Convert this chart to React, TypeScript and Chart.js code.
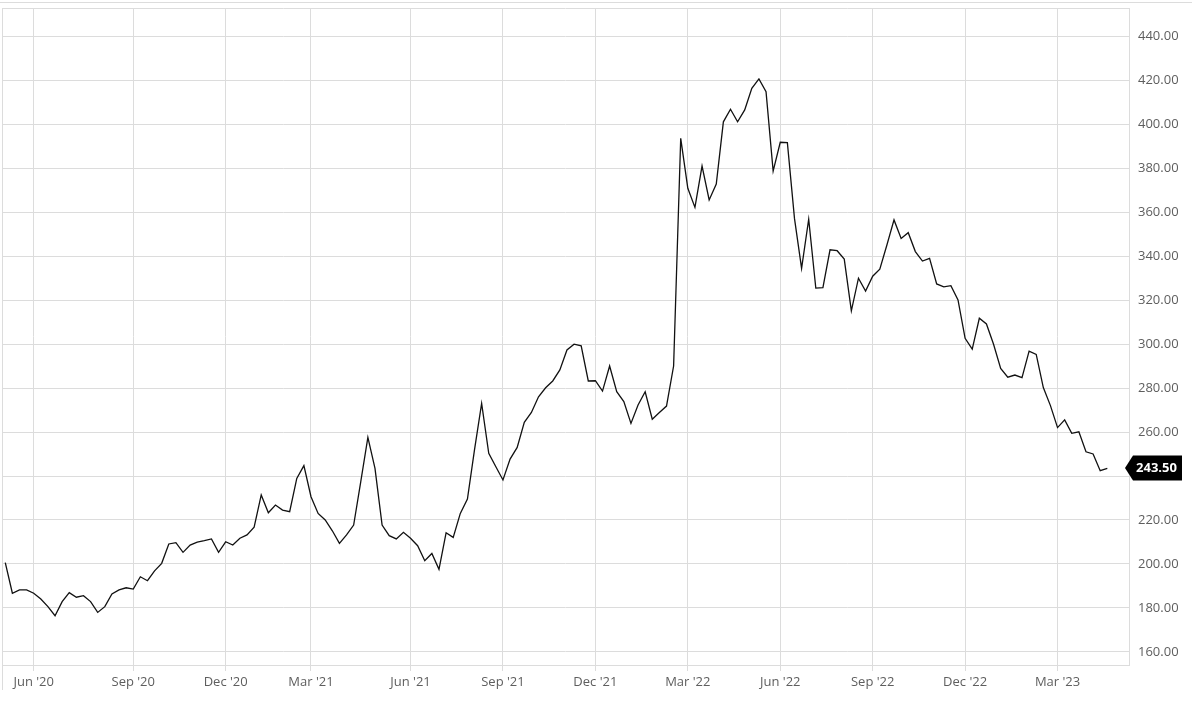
import React, { useEffect, useRef } from "react";
import { Chart, registerables } from "chart.js";

Chart.register(...registerables);

const dates: string[] = [
  "2020-05-04","2020-05-11","2020-05-18","2020-05-25",
  "2020-06-01","2020-06-08","2020-06-15","2020-06-22","2020-06-29",
  "2020-07-06","2020-07-13","2020-07-20","2020-07-27",
  "2020-08-03","2020-08-10","2020-08-17","2020-08-24","2020-08-31",
  "2020-09-07","2020-09-14","2020-09-21","2020-09-28",
  "2020-10-05","2020-10-12","2020-10-19","2020-10-26",
  "2020-11-02","2020-11-09","2020-11-16","2020-11-23","2020-11-30",
  "2020-12-07","2020-12-14","2020-12-21","2020-12-28",
  "2021-01-04","2021-01-11","2021-01-18","2021-01-25",
  "2021-02-01","2021-02-08","2021-02-15","2021-02-22",
  "2021-03-01","2021-03-08","2021-03-15","2021-03-22","2021-03-29",
  "2021-04-05","2021-04-12","2021-04-19","2021-04-26",
  "2021-05-03","2021-05-10","2021-05-17","2021-05-24","2021-05-31",
  "2021-06-07","2021-06-14","2021-06-21","2021-06-28",
  "2021-07-05","2021-07-12","2021-07-19","2021-07-26",
  "2021-08-02","2021-08-09","2021-08-16","2021-08-23","2021-08-30",
  "2021-09-06","2021-09-13","2021-09-20","2021-09-27",
  "2021-10-04","2021-10-11","2021-10-18","2021-10-25",
  "2021-11-01","2021-11-08","2021-11-15","2021-11-22","2021-11-29",
  "2021-12-06","2021-12-13","2021-12-20","2021-12-27",
  "2022-01-03","2022-01-10","2022-01-17","2022-01-24","2022-01-31",
  "2022-02-07","2022-02-14","2022-02-21","2022-02-28",
  "2022-03-07","2022-03-14","2022-03-21","2022-03-28",
  "2022-04-04","2022-04-11","2022-04-18","2022-04-25",
  "2022-05-02","2022-05-09","2022-05-16","2022-05-23","2022-05-30",
  "2022-06-06","2022-06-13","2022-06-20","2022-06-27",
  "2022-07-04","2022-07-11","2022-07-18","2022-07-25",
  "2022-08-01","2022-08-08","2022-08-15","2022-08-22","2022-08-29",
  "2022-09-05","2022-09-12","2022-09-19","2022-09-26",
  "2022-10-03","2022-10-10","2022-10-17","2022-10-24","2022-10-31",
  "2022-11-07","2022-11-14","2022-11-21","2022-11-28",
  "2022-12-05","2022-12-12","2022-12-19","2022-12-26",
  "2023-01-02","2023-01-09","2023-01-16","2023-01-23","2023-01-30",
  "2023-02-06","2023-02-13","2023-02-20","2023-02-27",
  "2023-03-06","2023-03-13","2023-03-20","2023-03-27",
  "2023-04-03","2023-04-10","2023-04-17","2023-04-24",
];

const prices: number[] = [
  200.6, 186.7, 188.2, 188.2, 186.7, 184.1, 180.6, 176.5, 182.9, 187.0,
  184.9, 185.6, 182.9, 178.0, 180.6, 186.4, 188.2, 189.2, 188.6, 194.2,
  192.4, 196.9, 200.3, 209.1, 209.7, 205.3, 208.6, 209.9, 210.6, 211.4,
  205.3, 210.1, 208.6, 211.7, 213.2, 216.7, 231.4, 223.3, 226.8, 224.5,
  223.8, 238.9, 244.7, 230.6, 223.0, 220.0, 215.1, 209.4, 213.2, 217.7,
  237.4, 257.6, 243.5, 217.7, 212.9, 211.4, 214.4, 211.7, 208.3, 201.5,
  204.8, 197.6, 214.2, 212.1, 223.0, 229.5, 252.0, 273.0, 250.3, 244.2,
  238.2, 247.7, 253.0, 264.4, 268.9, 276.0, 280.1, 283.2, 288.2, 297.3,
  299.9, 299.2, 283.2, 283.3, 278.6, 290.0, 278.3, 273.8, 263.9, 272.3,
  278.3, 265.8, 268.9, 271.8, 290.0, 393.5, 370.8, 362.1, 380.9, 365.5,
  372.7, 401.0, 406.7, 401.0, 406.4, 416.2, 420.5, 414.7, 378.6, 391.7,
  391.5, 357.1, 334.4, 356.7, 325.4, 325.6, 342.8, 342.4, 338.6, 315.1,
  329.9, 324.1, 330.8, 334.0, 345.0, 356.4, 348.0, 350.6, 342.0, 337.7,
  338.9, 327.3, 326.0, 326.5, 320.0, 302.6, 297.7, 311.7, 309.1, 299.9,
  288.9, 284.9, 285.9, 284.7, 296.8, 295.3, 280.2, 272.0, 262.0, 265.5,
  259.4, 260.1, 251.0, 250.0, 242.4, 243.5,
];

const yTickValues: number[] = [160, 180, 200, 220, 240, 260, 280, 300, 320, 340, 360, 380, 400, 420, 440];
const tickMonths: number[] = [2, 5, 8, 11];
const monthNames: string[] = ["Jan", "Feb", "Mar", "Apr", "May", "Jun", "Jul", "Aug", "Sep", "Oct", "Nov", "Dec"];

const FONT = "'Open Sans', 'Noto Sans', sans-serif";
const GRID = "#dcdcdc";

function monthOf(d: string) {
  return parseInt(d.slice(5, 7), 10) - 1;
}

const xTickIndices: number[] = dates
  .map((d, i) => i)
  .filter((i) => i > 0 && tickMonths.includes(monthOf(dates[i])) && monthOf(dates[i - 1]) !== monthOf(dates[i]));

const extras = {
  id: "extras",
  afterDraw(chart: any) {
    const { ctx, chartArea, scales } = chart;
    const { left, right, top } = chartArea;
    ctx.save();
    ctx.strokeStyle = GRID;
    ctx.lineWidth = 1;
    ctx.beginPath();
    ctx.moveTo(0, 2.5);
    ctx.lineTo(1192, 2.5);
    ctx.stroke();
    ctx.beginPath();
    ctx.moveTo(left, Math.round(top) + 0.5);
    ctx.lineTo(right, Math.round(top) + 0.5);
    ctx.stroke();
    ctx.beginPath();
    ctx.moveTo(left + 0.5, top);
    ctx.lineTo(left + 0.5, 690);
    ctx.stroke();

    const last = prices[prices.length - 1];
    const py = Math.round(scales.y.getPixelForValue(last));
    const tip = right - 4;
    const bx = tip + 8;
    const bw = 49;
    const bh = 25;
    ctx.fillStyle = "#000";
    ctx.beginPath();
    ctx.moveTo(tip, py);
    ctx.lineTo(bx, py - bh / 2);
    ctx.lineTo(bx + bw, py - bh / 2);
    ctx.lineTo(bx + bw, py + bh / 2);
    ctx.lineTo(bx, py + bh / 2);
    ctx.closePath();
    ctx.fill();
    ctx.fillStyle = "#fff";
    ctx.font = "bold 13px " + FONT;
    ctx.textAlign = "center";
    ctx.textBaseline = "middle";
    ctx.fillText(last.toFixed(2), bx + bw / 2 - 1, py + 0.5);
    ctx.restore();
  },
};

export default function App() {
  const ref = useRef<HTMLCanvasElement | null>(null);
  useEffect(() => {
    document.body.style.margin = "0";
    const canvas = ref.current;
    if (!canvas) return;
    const chart = new Chart(canvas, {
      type: "line",
      data: {
        datasets: [
          {
            data: prices.map((p, i) => ({ x: i, y: p })),
            borderColor: "#111",
            borderWidth: 1.3,
            pointRadius: 0,
            tension: 0,
            fill: false,
          },
        ],
      },
      options: {
        animation: false,
        responsive: false,
        maintainAspectRatio: false,
        layout: { padding: { left: 2, top: 0, right: 0, bottom: 0 } },
        plugins: { legend: { display: false }, tooltip: { enabled: false } },
        scales: {
          x: {
            type: "linear",
            min: -0.46,
            max: 158.05,
            afterBuildTicks: (scale: any) => {
              scale.ticks = xTickIndices.map((v) => ({ value: v }));
            },
            afterFit: (scale: any) => {
              scale.height = 39;
            },
            grid: { color: GRID, drawTicks: true, tickLength: 6, tickColor: GRID },
            border: { display: true, color: GRID },
            ticks: {
              autoSkip: false,
              maxRotation: 0,
              padding: 3,
              color: "#5e5e5e",
              font: { family: FONT, size: 13 },
              callback: (v: any) => {
                const d = dates[Math.round(Number(v))];
                if (!d) return "";
                return monthNames[monthOf(d)] + " '" + d.slice(2, 4);
              },
            },
          },
          y: {
            type: "linear",
            position: "right",
            min: 154.09,
            max: 452.73,
            afterBuildTicks: (scale: any) => {
              scale.ticks = yTickValues.map((v) => ({ value: v }));
            },
            afterFit: (scale: any) => {
              scale.width = 71;
              scale.paddingTop = 8;
            },
            grid: { color: GRID, drawTicks: false },
            border: { display: true, color: GRID },
            ticks: {
              padding: 9,
              color: "#5e5e5e",
              font: { family: FONT, size: 13 },
              callback: (v: any) => (Number(v) === 240 ? "" : Number(v).toFixed(2)),
            },
          },
        },
      },
      plugins: [extras],
    } as any);
    return () => chart.destroy();
  }, []);
  return (
    <div style={{ width: 1200, height: 704, background: "#fff" }}>
      <canvas ref={ref} width={1200} height={704} style={{ display: "block" }} />
    </div>
  );
}
